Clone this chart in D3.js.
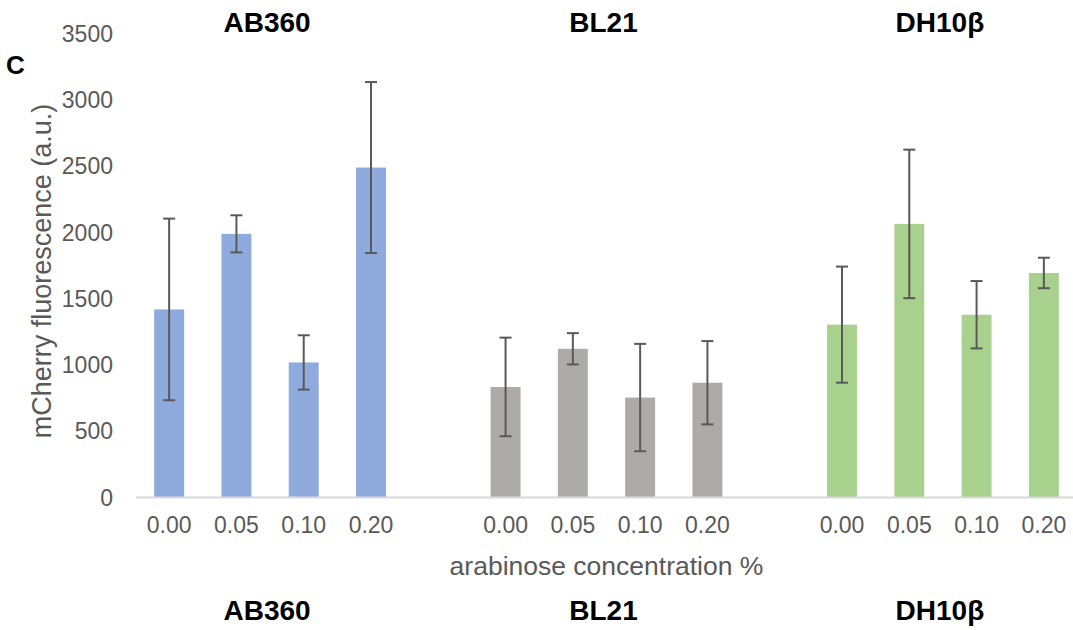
<!DOCTYPE html>
<html>
<head>
<meta charset="utf-8">
<script src="https://cdn.jsdelivr.net/npm/d3@7/dist/d3.min.js"></script>
<style>
  html, body { margin: 0; padding: 0; background: #fff; }
  svg { display: block; font-family: "Liberation Sans", Arial, sans-serif; }
</style>
</head>
<body>
<svg id="chart" width="1073" height="630"></svg>
<script>
// Strains, arabinose levels, mean fluorescence and error (±) per strain
const strains = ["AB360", "BL21", "DH10β"];
const concentrations = ["0.00", "0.05", "0.10", "0.20"];
const meanAB360 = [1415, 1985, 1015, 2485];
const errAB360  = [685, 140, 205, 645];
const meanBL21  = [830, 1118, 750, 862];
const errBL21   = [372, 118, 405, 314];
const meanDH10b = [1300, 2060, 1375, 1690];
const errDH10b  = [438, 560, 254, 115];
const strainColors = ["#8faadc", "#aeaaaa", "#a9d18e"];
const yTicks = [0, 500, 1000, 1500, 2000, 2500, 3000, 3500];

const means = [meanAB360, meanBL21, meanDH10b];
const errs = [errAB360, errBL21, errDH10b];

// One slot per bar, plus an empty slot between strains
const slots = [];
const rows = [];
strains.forEach((s, si) => {
  concentrations.forEach((c, ci) => {
    const key = s + "|" + c;
    slots.push(key);
    rows.push({ key, strain: s, si, conc: c, mean: means[si][ci], err: errs[si][ci] });
  });
  if (si < strains.length - 1) slots.push("gap" + si);
});

const svg = d3.select("#chart");
const x = d3.scaleBand().domain(slots).range([135.5, 1077.5]).paddingInner(0).paddingOuter(0);
const y = d3.scaleLinear().domain([0, 3500]).range([497, 33]);
const barW = x.bandwidth() * 0.445;
const textGrey = "#595959";
const tickFont = 23;

// Y axis (labels only)
const yAxis = svg.append("g")
  .attr("transform", "translate(113,0)")
  .call(d3.axisLeft(y).tickValues(yTicks).tickSize(0).tickPadding(0).tickFormat(d3.format("d")));
yAxis.select(".domain").remove();
yAxis.selectAll("text")
  .attr("fill", textGrey)
  .attr("font-size", tickFont)
  .attr("font-family", "Liberation Sans, Arial, sans-serif")
  .attr("dy", "0.36em");

// Bars
svg.append("g").selectAll("rect").data(rows).join("rect")
  .attr("x", d => x(d.key) + (x.bandwidth() - barW) / 2)
  .attr("width", barW)
  .attr("y", d => y(d.mean))
  .attr("height", d => y(0) - y(d.mean))
  .attr("fill", d => strainColors[d.si]);

// X axis with baseline
const xAxis = svg.append("g")
  .attr("transform", `translate(0,${y(0)})`)
  .call(d3.axisBottom(x).tickSize(0).tickSizeOuter(0)
    .tickFormat(k => k.startsWith("gap") ? "" : k.split("|")[1]));
xAxis.select(".domain").attr("stroke", "#d9d9d9").attr("stroke-width", 2);
xAxis.selectAll("text")
  .attr("fill", textGrey)
  .attr("font-size", tickFont)
  .attr("font-family", "Liberation Sans, Arial, sans-serif")
  .attr("y", 35.5)
  .attr("dy", 0);

// Error bars
const eb = svg.append("g").attr("stroke", "#595959").attr("stroke-width", 2).attr("fill", "none");
const cap = 6;
rows.forEach(d => {
  const cx = x(d.key) + x.bandwidth() / 2;
  eb.append("line").attr("x1", cx).attr("x2", cx).attr("y1", y(d.mean + d.err)).attr("y2", y(d.mean - d.err));
  eb.append("line").attr("x1", cx - cap).attr("x2", cx + cap).attr("y1", y(d.mean + d.err)).attr("y2", y(d.mean + d.err));
  eb.append("line").attr("x1", cx - cap).attr("x2", cx + cap).attr("y1", y(d.mean - d.err)).attr("y2", y(d.mean - d.err));
});

// Strain titles above and below
const groupCenter = s => {
  const first = x(s + "|" + concentrations[0]);
  const last = x(s + "|" + concentrations[concentrations.length - 1]) + x.bandwidth();
  return (first + last) / 2;
};
[31.5, 620].forEach(ty => {
  svg.append("g").selectAll("text").data(strains).join("text")
    .attr("x", d => groupCenter(d) - 3)
    .attr("y", ty)
    .attr("text-anchor", "middle")
    .attr("font-size", 28)
    .attr("font-weight", "bold")
    .attr("fill", "#000")
    .text(d => d);
});

// Panel letter
svg.append("text").attr("x", 6).attr("y", 74)
  .attr("font-size", 26).attr("font-weight", "bold").attr("fill", "#000").text("C");

// Axis titles
svg.append("text")
  .attr("x", (135.5 + 1077.5) / 2)
  .attr("y", 575)
  .attr("text-anchor", "middle")
  .attr("font-size", 26.5)
  .attr("fill", textGrey)
  .text("arabinose concentration %");

svg.append("text")
  .attr("transform", "translate(51,271) rotate(-90)")
  .attr("text-anchor", "middle")
  .attr("font-size", 27)
  .attr("fill", textGrey)
  .text("mCherry fluorescence (a.u.)");
</script>
</body>
</html>
